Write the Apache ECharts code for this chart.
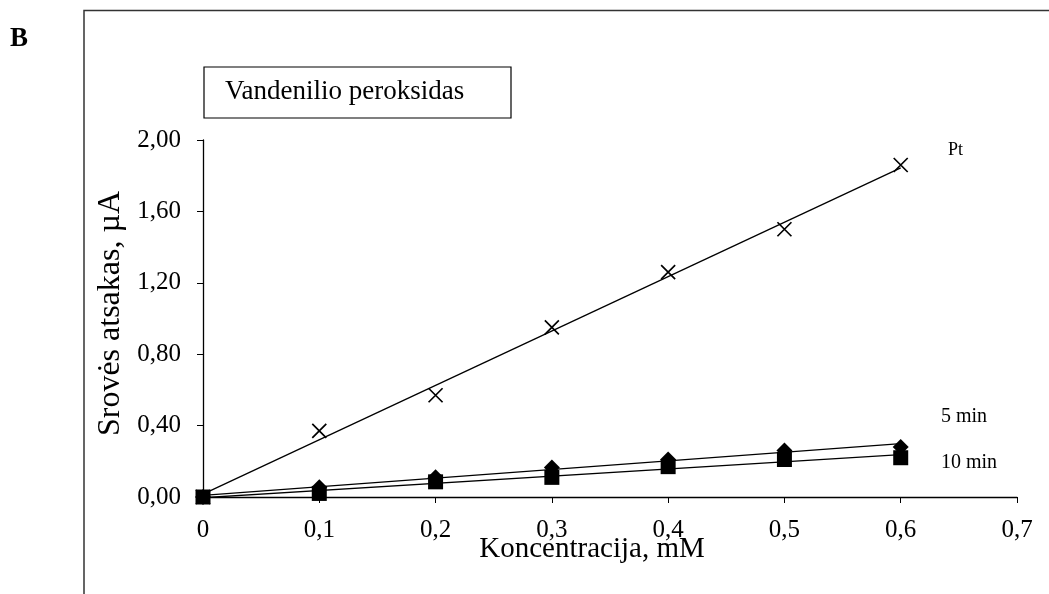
<!DOCTYPE html>
<html>
<head>
<meta charset="utf-8">
<script src="https://cdn.jsdelivr.net/npm/echarts@6/dist/echarts.min.js"></script>
<style>html,body{margin:0;padding:0;background:#fff}#c{width:1049px;height:594px}</style>
</head>
<body>
<div id="c"></div>
<script>
const concentrations = [0, 0.1, 0.2, 0.3, 0.4, 0.5, 0.6];
const ptValues = [0, 0.37, 0.57, 0.95, 1.26, 1.50, 1.86];
const min5Values = [0, 0.055, 0.11, 0.165, 0.21, 0.26, 0.28];
const min10Values = [0, 0.02, 0.085, 0.11, 0.17, 0.21, 0.22];
const seriesNames = ['Pt', '5 min', '10 min'];
const yTicks = [0, 0.4, 0.8, 1.2, 1.6, 2.0];
const xTicks = [0, 0.1, 0.2, 0.3, 0.4, 0.5, 0.6, 0.7];

function fit(xs, ys) {
  const n = xs.length;
  const mx = xs.reduce((a, b) => a + b, 0) / n;
  const my = ys.reduce((a, b) => a + b, 0) / n;
  let sxy = 0, sxx = 0;
  for (let i = 0; i < n; i++) { sxy += (xs[i] - mx) * (ys[i] - my); sxx += (xs[i] - mx) ** 2; }
  const k = sxy / sxx, b = my - k * mx;
  const x0 = xs[0], x1 = xs[n - 1];
  return [[x0, k * x0 + b], [x1, k * x1 + b]];
}
const pairs = ys => concentrations.map((x, i) => [x, ys[i]]);

const font = '"Liberation Serif", "Times New Roman", serif';
const chart = echarts.init(document.getElementById('c'));
const trendStyle = { color: '#000', width: 1.3 };

chart.setOption({
  backgroundColor: '#fff',
  animation: false,
  grid: { left: 203, right: 32, top: 140, bottom: 97, containLabel: false },
  xAxis: {
    type: 'value', min: 0, max: 0.7, interval: 0.1,
    name: 'Koncentracija, mM', nameLocation: 'middle', nameGap: 38, nameMoveOverlap: false,
    nameTextStyle: { fontFamily: font, fontSize: 29, color: '#000', padding: [0, 36, 0, 0] },
    axisLine: { lineStyle: { color: '#000', width: 1.3 } },
    axisTick: { show: true, length: 6, lineStyle: { color: '#000' } },
    splitLine: { show: false },
    axisLabel: { margin: 21, fontFamily: font, fontSize: 25, color: '#000',
      formatter: v => v === 0 ? '0' : v.toFixed(1).replace('.', ',') }
  },
  yAxis: {
    type: 'value', min: 0, max: 2, interval: 0.4,
    name: 'Srovės atsakas, µA', nameLocation: 'middle', nameGap: 76, nameMoveOverlap: false,
    nameTextStyle: { fontFamily: font, fontSize: 32, color: '#000', padding: [0, 0, 0, 10] },
    axisLine: { show: true, lineStyle: { color: '#000', width: 1.3 } },
    axisTick: { show: true, length: 6, lineStyle: { color: '#000' } },
    splitLine: { show: false },
    axisLabel: { margin: 22, fontFamily: font, fontSize: 25, color: '#000',
      formatter: v => v.toFixed(2).replace('.', ',') }
  },
  series: [
    { type: 'line', data: fit(concentrations, ptValues), symbol: 'none', lineStyle: trendStyle, z: 1 },
    { type: 'line', data: fit(concentrations, min5Values), symbol: 'none', lineStyle: trendStyle, z: 1 },
    { type: 'line', data: fit(concentrations, min10Values), symbol: 'none', lineStyle: trendStyle, z: 1 },
    { name: seriesNames[0], type: 'scatter', data: pairs(ptValues),
      symbol: 'path://M0,0L10,10M10,0L0,10', symbolSize: 14,
      itemStyle: { color: 'none', borderColor: '#000', borderWidth: 1.7, opacity: 1 }, z: 3 },
    { name: seriesNames[1], type: 'scatter', data: pairs(min5Values),
      symbol: 'diamond', symbolSize: 16, itemStyle: { color: '#000', opacity: 1 }, z: 2 },
    { name: seriesNames[2], type: 'scatter', data: pairs(min10Values),
      symbol: 'rect', symbolSize: 15, itemStyle: { color: '#000', opacity: 1 }, z: 2 }
  ],
  graphic: [
    { type: 'polyline', shape: { points: [[84, 594], [84, 10.5], [1049, 10.5]] },
      style: { stroke: '#333', lineWidth: 1.5, fill: 'none' } },
    { type: 'text', left: 10, top: 26, style: { text: 'B', font: 'bold 27px ' + font, fill: '#000' } },
    { type: 'rect', shape: { x: 204, y: 67, width: 307, height: 51 },
      style: { stroke: '#000', lineWidth: 1.2, fill: '#fff' } },
    { type: 'text', left: 225, top: 78, style: { text: 'Vandenilio peroksidas', font: '27px ' + font, fill: '#000' } },
    { type: 'text', left: 948, top: 141, style: { text: seriesNames[0], font: '18px ' + font, fill: '#000' } },
    { type: 'text', left: 941, top: 407, style: { text: seriesNames[1], font: '20px ' + font, fill: '#000' } },
    { type: 'text', left: 941, top: 453, style: { text: seriesNames[2], font: '20px ' + font, fill: '#000' } }
  ]
});
</script>
</body>
</html>
